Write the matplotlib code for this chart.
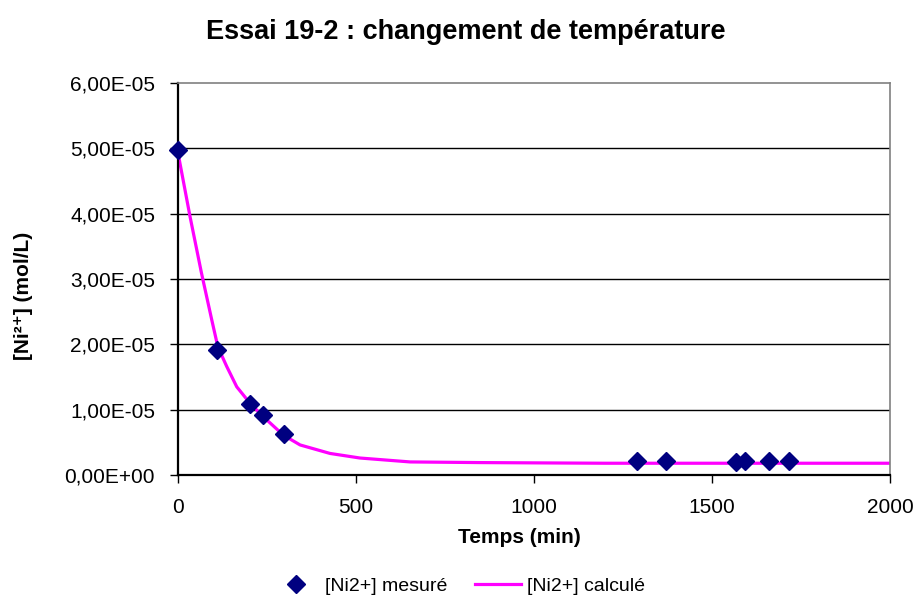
import matplotlib.pyplot as plt
from matplotlib.ticker import FuncFormatter

plt.rcParams['font.family'] = ['Liberation Sans', 'DejaVu Sans']

# measured concentrations
t_mes = [0, 110, 202, 239, 298, 1290, 1370, 1567, 1593, 1660, 1717]
c_mes = [4.97e-5, 1.91e-5, 1.09e-5, 0.92e-5, 0.63e-5,
         0.22e-5, 0.21e-5, 0.20e-5, 0.21e-5, 0.21e-5, 0.21e-5]

# model curve
t_calc = [0, 34, 66, 95, 112, 137, 165, 202, 240, 296, 343, 427, 511,
          652, 848, 1200, 1600, 2000]
c_calc = [4.93e-5, 3.95e-5, 3.09e-5, 2.37e-5, 1.96e-5, 1.66e-5, 1.35e-5,
          1.10e-5, 0.89e-5, 0.61e-5, 0.46e-5, 0.33e-5, 0.26e-5,
          0.20e-5, 0.19e-5, 0.18e-5, 0.18e-5, 0.18e-5]

y_ticks = [0, 1e-5, 2e-5, 3e-5, 4e-5, 5e-5, 6e-5]
x_ticks = [0, 500, 1000, 1500, 2000]


def sci_comma(v, pos):
    s = "%.2E" % v
    return s.replace('.', ',')


fig = plt.figure(figsize=(9.18, 6.04), dpi=100)
ax = fig.add_axes([178 / 918, 1 - 475 / 604, (890 - 178) / 918, (475 - 83) / 604])

for yv in y_ticks[1:-1]:
    ax.axhline(yv, color='black', lw=1.0, zorder=1)

ax.plot(t_calc, c_calc, '-', color='#ff00ff', lw=2.3, zorder=2,
        label='[Ni2+] calculé')
ax.plot(t_mes, c_mes, 'D', color='#000080', markersize=9.5, ls='none',
        zorder=3, label='[Ni2+] mesuré', clip_on=False)

ax.set_xlim(0, 2000)
ax.set_ylim(0, 6e-5)
ax.set_xticks(x_ticks)
ax.set_yticks(y_ticks)
ax.yaxis.set_major_formatter(FuncFormatter(sci_comma))
ax.tick_params(direction='out', length=5.5, width=1, labelsize=15, pad=11)

for side in ['left', 'bottom']:
    ax.spines[side].set_linewidth(1.6)
    ax.spines[side].set_color('black')
for side in ['top', 'right']:
    ax.spines[side].set_linewidth(1.2)
    ax.spines[side].set_color('#808080')

ax.set_xlabel('Temps (min)', fontsize=15, fontweight='bold')
ax.xaxis.set_label_coords(0.48, -0.135)
ax.set_ylabel('[Ni²⁺] (mol/L)', fontsize=15, fontweight='bold')
ax.yaxis.set_label_coords(-0.204, 0.457)
fig.text(0.507, 0.947, 'Essai 19-2 : changement de température', fontsize=19.5,
         fontweight='bold', ha='center', va='center')

handles, labels = ax.get_legend_handles_labels()
fig.legend(handles[::-1], labels[::-1], loc='center', ncol=2,
           bbox_to_anchor=(0.5, 0.03), frameon=False, fontsize=14,
           handlelength=2.4, columnspacing=1.4, handletextpad=0.3)

fig.savefig('out.png', dpi=100)
